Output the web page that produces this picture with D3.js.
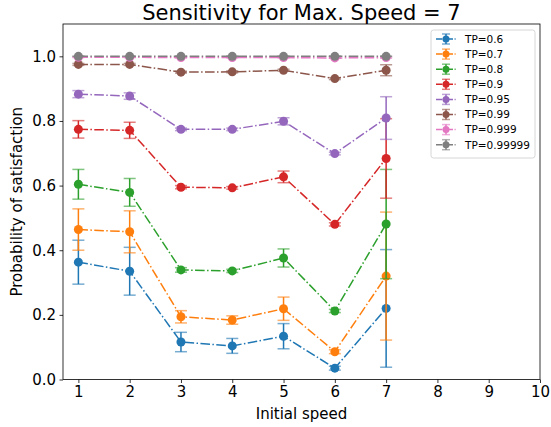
<!DOCTYPE html>
<html><head><meta charset="utf-8">
<script src="https://cdn.jsdelivr.net/npm/d3@7"></script>
<style>body{margin:0;background:#fff}svg{display:block;font-family:"DejaVu Sans",sans-serif}</style>
</head><body><svg id="c" width="551" height="427"></svg>
<script>
const speeds = [1,2,3,4,5,6,7];
const seriesNames = ["TP=0.6","TP=0.7","TP=0.8","TP=0.9","TP=0.95","TP=0.99","TP=0.999","TP=0.99999"];
const colors = ["#1f77b4","#ff7f0e","#2ca02c","#d62728","#9467bd","#8c564b","#e377c2","#7f7f7f"];
const tp06 = [0.363,0.335,0.116,0.104,0.134,0.035,0.220];
const tp06err = [0.068,0.074,0.030,0.023,0.039,0.006,0.182];
const tp07 = [0.464,0.457,0.194,0.184,0.219,0.086,0.320];
const tp07err = [0.064,0.065,0.019,0.013,0.036,0.006,0.198];
const tp08 = [0.604,0.579,0.339,0.336,0.376,0.212,0.481];
const tp08err = [0.046,0.043,0.007,0.005,0.028,0.005,0.169];
const tp09 = [0.774,0.771,0.595,0.593,0.627,0.480,0.684];
const tp09err = [0.027,0.025,0.005,0.004,0.018,0.005,0.123];
const tp095 = [0.883,0.877,0.774,0.774,0.799,0.699,0.809];
const tp095err = [0.011,0.010,0.004,0.004,0.011,0.004,0.066];
const tp099 = [0.975,0.975,0.951,0.952,0.957,0.931,0.957];
const tp099err = [0.003,0.003,0.003,0.003,0.003,0.003,0.017];
const tp0999 = [0.997,0.997,0.996,0.996,0.996,0.995,0.996];
const tp0999err = [0.001,0.001,0.001,0.001,0.001,0.001,0.002];
const tp099999 = [1.0,1.0,1.0,1.0,1.0,1.0,1.0];
const tp099999err = [0,0,0,0,0,0,0];
const xTicks = [1,2,3,4,5,6,7,8,9,10];
const yTicks = [0.0,0.2,0.4,0.6,0.8,1.0];

const values = [tp06,tp07,tp08,tp09,tp095,tp099,tp0999,tp099999];
const errs = [tp06err,tp07err,tp08err,tp09err,tp095err,tp099err,tp0999err,tp099999err];

const svg = d3.select("#c");
const L=63, R=540, T=24, B=379.5;
const x = d3.scaleLinear().domain([0.7,10]).range([L,R]);
const y = d3.scaleLinear().domain([0,1.1]).range([B,T]);

const plot = svg.append("g");
values.forEach((vals,i)=>{
  const g = plot.append("g");
  const c = colors[i];
  const line = d3.line().x((d,j)=>x(speeds[j])).y(d=>y(d));
  g.append("path").attr("d",line(vals)).attr("fill","none").attr("stroke",c)
   .attr("stroke-width",1.5).attr("stroke-dasharray","9.6,2.4,1.5,2.4");
  vals.forEach((v,j)=>{
    const e = errs[i][j], cx = x(speeds[j]);
    g.append("line").attr("x1",cx).attr("x2",cx).attr("y1",y(v-e)).attr("y2",y(v+e))
     .attr("stroke",c).attr("stroke-width",1.5);
    [v-e,v+e].forEach(yy=>g.append("line").attr("x1",cx-6).attr("x2",cx+6)
      .attr("y1",y(yy)).attr("y2",y(yy)).attr("stroke",c).attr("stroke-width",1.5).attr("opacity",0.6));
    g.append("circle").attr("cx",cx).attr("cy",y(v)).attr("r",4.5).attr("fill",c);
  });
});

// axes
const xa = svg.append("g").attr("transform",`translate(0,${B})`)
  .call(d3.axisBottom(x).tickValues(xTicks).tickFormat(d3.format("d")).tickSizeOuter(0).tickSize(3.5).tickPadding(3.5));
const ya = svg.append("g").attr("transform",`translate(${L},0)`)
  .call(d3.axisLeft(y).tickValues(yTicks).tickFormat(d3.format(".1f")).tickSizeOuter(0).tickSize(3.5).tickPadding(3.5));
[xa,ya].forEach(a=>{
  a.selectAll("text").attr("font-size",15).attr("font-family","DejaVu Sans").attr("fill","#000");
  a.selectAll("line").attr("stroke","#000").attr("stroke-width",0.8);
  a.select(".domain").remove();
});
svg.append("rect").attr("x",L).attr("y",T).attr("width",R-L).attr("height",B-T)
  .attr("fill","none").attr("stroke","#000").attr("stroke-width",0.8);

svg.append("text").attr("x",(L+R)/2).attr("y",19.5).attr("text-anchor","middle")
  .attr("font-size",21).text("Sensitivity for Max. Speed = 7");
svg.append("text").attr("x",(L+R)/2).attr("y",419).attr("text-anchor","middle")
  .attr("font-size",15).text("Initial speed");
svg.append("text").attr("transform",`translate(22,${(T+B)/2}) rotate(-90)`).attr("text-anchor","middle")
  .attr("font-size",15).text("Probability of satisfaction");

// legend
const lg = svg.append("g");
lg.append("rect").attr("x",431).attr("y",30).attr("width",104).attr("height",128).attr("rx",2.5)
  .attr("fill","#fff").attr("fill-opacity",0.8).attr("stroke","#ccc").attr("stroke-width",0.8);
seriesNames.forEach((n,i)=>{
  const yy = 39 + i*15.1, c = colors[i];
  lg.append("line").attr("x1",436).attr("x2",456).attr("y1",yy).attr("y2",yy).attr("stroke",c)
    .attr("stroke-width",1.5).attr("stroke-dasharray","6.4,1.6,1,1.6");
  lg.append("line").attr("x1",446).attr("x2",446).attr("y1",yy-5).attr("y2",yy+5).attr("stroke",c).attr("stroke-width",1.5);
  [yy-5,yy+5].forEach(q=>lg.append("line").attr("x1",442).attr("x2",450).attr("y1",q).attr("y2",q).attr("stroke",c).attr("stroke-width",1.5).attr("opacity",0.6));
  lg.append("circle").attr("cx",446).attr("cy",yy).attr("r",3.5).attr("fill",c);
  lg.append("text").attr("x",465).attr("y",yy+3.8).attr("font-size",10.5).text(n);
});
</script></body></html>
